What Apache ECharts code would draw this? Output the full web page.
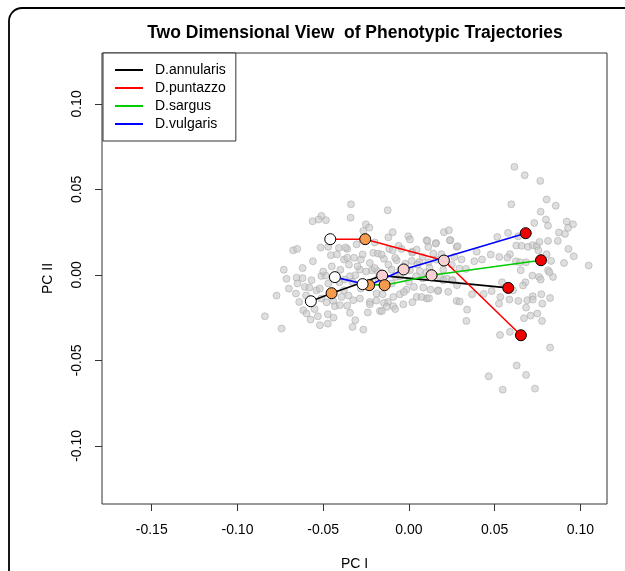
<!DOCTYPE html>
<html>
<head>
<meta charset="utf-8">
<script src="https://cdn.jsdelivr.net/npm/echarts@6/dist/echarts.min.js"></script>
<style>
html,body{margin:0;padding:0;background:#fff;}
#chart{width:625px;height:571px;}
</style>
</head>
<body>
<div id="chart"></div>
<script>
// ---- data ----
const titleText = "Two Dimensional View  of Phenotypic Trajectories";
const xName = "PC I";
const yName = "PC II";
const xTicks = [-0.15, -0.10, -0.05, 0.00, 0.05, 0.10];
const yTicks = [-0.10, -0.05, 0.00, 0.05, 0.10];
const speciesNames = ["D.annularis", "D.puntazzo", "D.sargus", "D.vulgaris"];
const speciesColors = ["#000000", "#FF0000", "#00CD00", "#0000FF"];
const stageColors = ["#FFFFFF", "#F89A4C", "#F8D2D2", "#F00000"];
// trajectories: [PC I, PC II] for stages 1..4
const annularis = [[-0.0572, -0.0154], [-0.0451, -0.0107], [-0.0156, -0.0004], [0.0579, -0.0076]];
const puntazzo  = [[-0.0459, 0.0209], [-0.0255, 0.0209], [0.0204, 0.0084], [0.0653, -0.0353]];
const sargus    = [[-0.0270, -0.0054], [-0.0142, -0.0060], [0.0132, -0.0002], [0.0770, 0.0086]];
const vulgaris  = [[-0.0432, -0.0013], [-0.0232, -0.0060], [-0.0031, 0.0032], [0.0681, 0.0244]];
// individual specimens (grey cloud)
const specimens = [
[-0.0338,0.0413],[-0.0124,0.0378],[-0.0510,0.0345],[-0.0562,0.0314],[-0.0527,0.0324],[-0.0484,0.0320],
[-0.0340,0.0335],[-0.0251,0.0296],[-0.0231,0.0277],[-0.0266,0.0257],[-0.0095,0.0250],[-0.0004,0.0226],
[0.0006,0.0207],[0.0204,0.0250],[0.0233,0.0261],[0.0103,0.0203],[0.0113,0.0164],[0.0158,0.0187],
[0.0241,0.0203],[0.0278,0.0164],[-0.0675,0.0144],[-0.0652,0.0152],[-0.0515,0.0160],[-0.0471,0.0164],
[-0.0408,0.0158],[-0.0360,0.0152],[-0.0305,0.0179],[-0.0455,0.0115],[-0.0379,0.0090],[-0.0360,0.0101],
[-0.0280,0.0090],[-0.0228,0.0070],[-0.0208,0.0129],[-0.0181,0.0125],[-0.0146,0.0094],[-0.0115,0.0152],
[-0.0095,0.0144],[-0.0043,0.0152],[0.0018,0.0136],[0.0045,0.0148],[0.0142,0.0125],[0.0189,0.0121],
[-0.0072,0.0086],[-0.0021,0.0066],[0.0016,0.0082],[0.0060,0.0074],[0.0080,0.0105],[0.0115,0.0074],
[-0.0714,-0.0023],[-0.0655,-0.0016],[-0.0620,-0.0019],[-0.0568,-0.0031],[-0.0511,-0.0006],[-0.0486,-0.0004],
[-0.0406,-0.0043],[-0.0375,-0.0027],[-0.0344,-0.0008],[-0.0313,-0.0002],[-0.0286,0.0031],[-0.0216,0.0027],
[-0.0185,0.0023],[-0.0101,0.0031],[-0.0076,-0.0012],[-0.0053,-0.0008],[0.0006,0.0027],[0.0041,-0.0008],
[0.0064,0.0023],[0.0103,0.0016],[0.0181,-0.0012],[0.0220,-0.0021],[0.0255,-0.0031],[-0.0659,-0.0109],
[-0.0640,-0.0158],[-0.0607,-0.0070],[-0.0581,-0.0074],[-0.0539,-0.0090],[-0.0510,-0.0138],[-0.0480,-0.0160],
[-0.0441,-0.0152],[-0.0393,-0.0129],[-0.0352,-0.0121],[-0.0325,-0.0148],[-0.0286,-0.0138],[-0.0228,-0.0158],
[-0.0189,-0.0109],[-0.0154,-0.0113],[-0.0123,-0.0158],[-0.0091,-0.0129],[-0.0053,-0.0113],[-0.0014,-0.0086],
[0.0029,-0.0070],[0.0084,-0.0074],[0.0126,-0.0086],[0.0171,-0.0090],[0.0229,-0.0099],[0.0278,-0.0152],
[-0.0772,-0.0121],[-0.0840,-0.0242],[-0.0743,-0.0314],[-0.0616,-0.0207],[-0.0597,-0.0226],[-0.0574,-0.0261],
[-0.0531,-0.0242],[-0.0473,-0.0230],[-0.0432,-0.0183],[-0.0403,-0.0177],[-0.0344,-0.0222],[-0.0313,-0.0265],
[-0.0266,-0.0320],[-0.0228,-0.0172],[-0.0169,-0.0211],[-0.0146,-0.0164],[-0.0130,-0.0187],[-0.0091,-0.0183],
[-0.0033,-0.0172],[0.0045,-0.0129],[0.0103,-0.0138],[-0.0519,-0.0294],[-0.0473,-0.0285],[-0.0329,-0.0304],
[-0.0158,-0.0211],
[-0.030,0.005],[-0.025,0.002],[-0.020,0.004],[-0.033,-0.004],[-0.028,-0.008],[-0.022,-0.006],[-0.018,-0.002],
[-0.012,0.006],[-0.008,0.010],[-0.035,0.006],[-0.040,0.003],[-0.045,0.005],[-0.050,0.002],[-0.052,-0.008],
[-0.047,-0.005],[-0.038,-0.009],[-0.010,-0.005],[-0.005,0.003],[0.000,-0.004],[0.005,0.006],[0.008,-0.002],
[-0.027,0.012],[-0.032,0.010],[-0.016,0.012],[-0.003,-0.010],[-0.060,-0.012],[-0.065,-0.005],[-0.055,-0.020],
[-0.044,-0.025],[-0.036,-0.018],[-0.024,-0.022],[-0.019,-0.015],[-0.008,-0.020],[0.002,-0.016],[-0.070,-0.008],
[-0.073,0.003],[-0.062,0.004],[-0.056,0.008],[-0.042,0.012],[-0.037,0.016],[-0.020,0.019],[-0.012,0.022],
[-0.006,0.017],[0.002,0.013],[0.012,0.004],[0.016,0.009],[0.020,0.003],[0.025,0.006],[0.028,-0.006],
[0.0615,0.0632],[0.0675,0.0583],[0.0766,0.0550],[0.0597,0.0413],[0.0803,0.0441],[0.0856,0.0405],
[0.0768,0.0370],[0.0799,0.0324],[0.0731,0.0304],[0.0920,0.0312],[0.0957,0.0296],[0.0811,0.0288],
[0.0515,0.0222],[0.0578,0.0246],[0.0638,0.0226],[0.0875,0.0248],[0.0910,0.0240],[0.0928,0.0275],
[0.0107,0.0199],[0.0156,0.0183],[0.0239,0.0203],[0.0284,0.0168],[0.0395,0.0136],[0.0477,0.0119],
[0.0527,0.0105],[0.0589,0.0121],[0.0626,0.0172],[0.0657,0.0170],[0.0694,0.0164],[0.0722,0.0174],
[0.0745,0.0168],[0.0761,0.0193],[0.0811,0.0199],[0.0868,0.0199],[0.0755,0.0144],[0.0803,0.0121],
[0.0829,0.0082],[0.0930,0.0152],[0.0961,0.0109],[0.0904,0.0070],[0.1048,0.0055],[0.0624,0.0080],
[0.0648,0.0074],[0.0683,0.0074],[0.0574,0.0101],[0.0426,0.0090],[0.0381,0.0080],[0.0307,0.0090],
[0.0265,0.0105],[0.0333,0.0035],[0.0294,0.0037],[0.0251,-0.0031],[0.0200,-0.0031],[0.0169,-0.0094],
[0.0117,-0.0136],[0.0074,-0.0129],[0.0652,0.0027],[0.0720,-0.0004],[0.0759,-0.0012],[0.0768,-0.0027],
[0.0811,0.0027],[0.0840,-0.0012],[0.0819,0.0016],[0.0543,-0.0043],[0.0679,-0.0043],[0.0665,-0.0062],
[0.0607,-0.0090],[0.0482,-0.0094],[0.0436,-0.0111],[0.0368,-0.0113],[0.0296,-0.0156],[0.0533,-0.0129],
[0.0586,-0.0144],[0.0525,-0.0168],[0.0722,-0.0125],[0.0772,-0.0113],[0.0778,-0.0168],[0.0823,-0.0135],
[0.0690,-0.0148],[0.0722,-0.0144],[0.0638,-0.0152],[0.0683,-0.0191],[0.0339,-0.0203],[0.0335,-0.0269],
[0.0710,-0.0238],[0.0749,-0.0226],[0.0671,-0.0253],[0.0776,-0.0269],[0.0531,-0.0351],[0.0589,-0.0333],
[0.0823,-0.0425],[0.0628,-0.0530],[0.0683,-0.0585],[0.0465,-0.0593],[0.0735,-0.0665],[0.0547,-0.0671]
];

// ---- chart ----
const trajectories = [annularis, puntazzo, sargus, vulgaris];
const chart = echarts.init(document.getElementById('chart'), null, {renderer: 'canvas'});
const FONT = 'Liberation Sans, Arial, Helvetica, sans-serif';

const series = [];
series.push({
  type: 'scatter', name: 'specimens', data: specimens, symbolSize: 7, z: 1,
  itemStyle: {color: 'rgba(200,200,200,0.75)', borderColor: 'rgba(155,155,155,0.75)', borderWidth: 0.8},
  silent: true
});
speciesNames.forEach((n, i) => {
  series.push({
    type: 'line', name: n, data: trajectories[i], showSymbol: false, symbol: 'none', z: 3,
    lineStyle: {color: speciesColors[i], width: 1.6}, itemStyle: {color: speciesColors[i]}, silent: true
  });
});
// stage markers, drawn from last stage to first so early stages sit on top
for (let s = 3; s >= 0; s--) {
  series.push({
    type: 'scatter', name: 'stage' + (s + 1),
    data: trajectories.map(t => t[s]), symbolSize: 11, z: 5 + (3 - s),
    itemStyle: {color: stageColors[s], borderColor: '#000', borderWidth: 1, opacity: 1},
    silent: true
  });
}

chart.setOption({
  animation: false,
  backgroundColor: '#fff',
  title: {
    text: titleText, left: 355, top: 24, textAlign: 'center', padding: 0,
    textStyle: {fontFamily: FONT, fontSize: 17.5, fontWeight: 'bold', color: '#000'}
  },
  legend: {
    data: speciesNames, orient: 'vertical', left: 103, top: 53,
    backgroundColor: '#fff', borderColor: '#333', borderWidth: 1,
    padding: [10, 10, 10, 12], itemGap: 4, itemWidth: 28, itemHeight: 2, icon: 'rect',
    textStyle: {fontFamily: FONT, fontSize: 14, color: '#000', padding: [0, 0, 0, 7]},
    selectedMode: false
  },
  grid: {left: 102, top: 53, right: 18, bottom: 67, show: true, borderColor: '#333', borderWidth: 1,
    containLabel: false, outerBoundsMode: 'none'},
  xAxis: {
    type: 'value', min: -0.179, max: 0.1155,
    name: xName, nameLocation: 'middle', nameGap: 53,
    nameTextStyle: {fontFamily: FONT, fontSize: 14, color: '#000'},
    axisLine: {show: false, onZero: false},
    axisTick: {show: true, length: 7, inside: false, customValues: xTicks, lineStyle: {color: '#333'}},
    axisLabel: {customValues: xTicks, margin: 19, fontFamily: FONT, fontSize: 14, color: '#000',
      formatter: v => v.toFixed(2)},
    splitLine: {show: false}
  },
  yAxis: {
    type: 'value', min: -0.134, max: 0.1298,
    name: yName, nameLocation: 'middle', nameGap: 47, nameRotate: 90,
    nameTextStyle: {fontFamily: FONT, fontSize: 14, color: '#000'},
    axisLine: {show: false, onZero: false},
    axisTick: {show: true, length: 7, inside: false, customValues: yTicks, lineStyle: {color: '#333'}},
    axisLabel: {customValues: yTicks, rotate: 90, margin: 18, fontFamily: FONT, fontSize: 14, color: '#000',
      formatter: v => v.toFixed(2)},
    splitLine: {show: false}
  },
  graphic: [{
    type: 'rect', silent: true, z: 0,
    shape: {x: 9, y: 8, width: 700, height: 700, r: 13},
    style: {fill: 'none', stroke: '#000', lineWidth: 1.8}
  }],
  series: series
});
</script>
</body>
</html>
